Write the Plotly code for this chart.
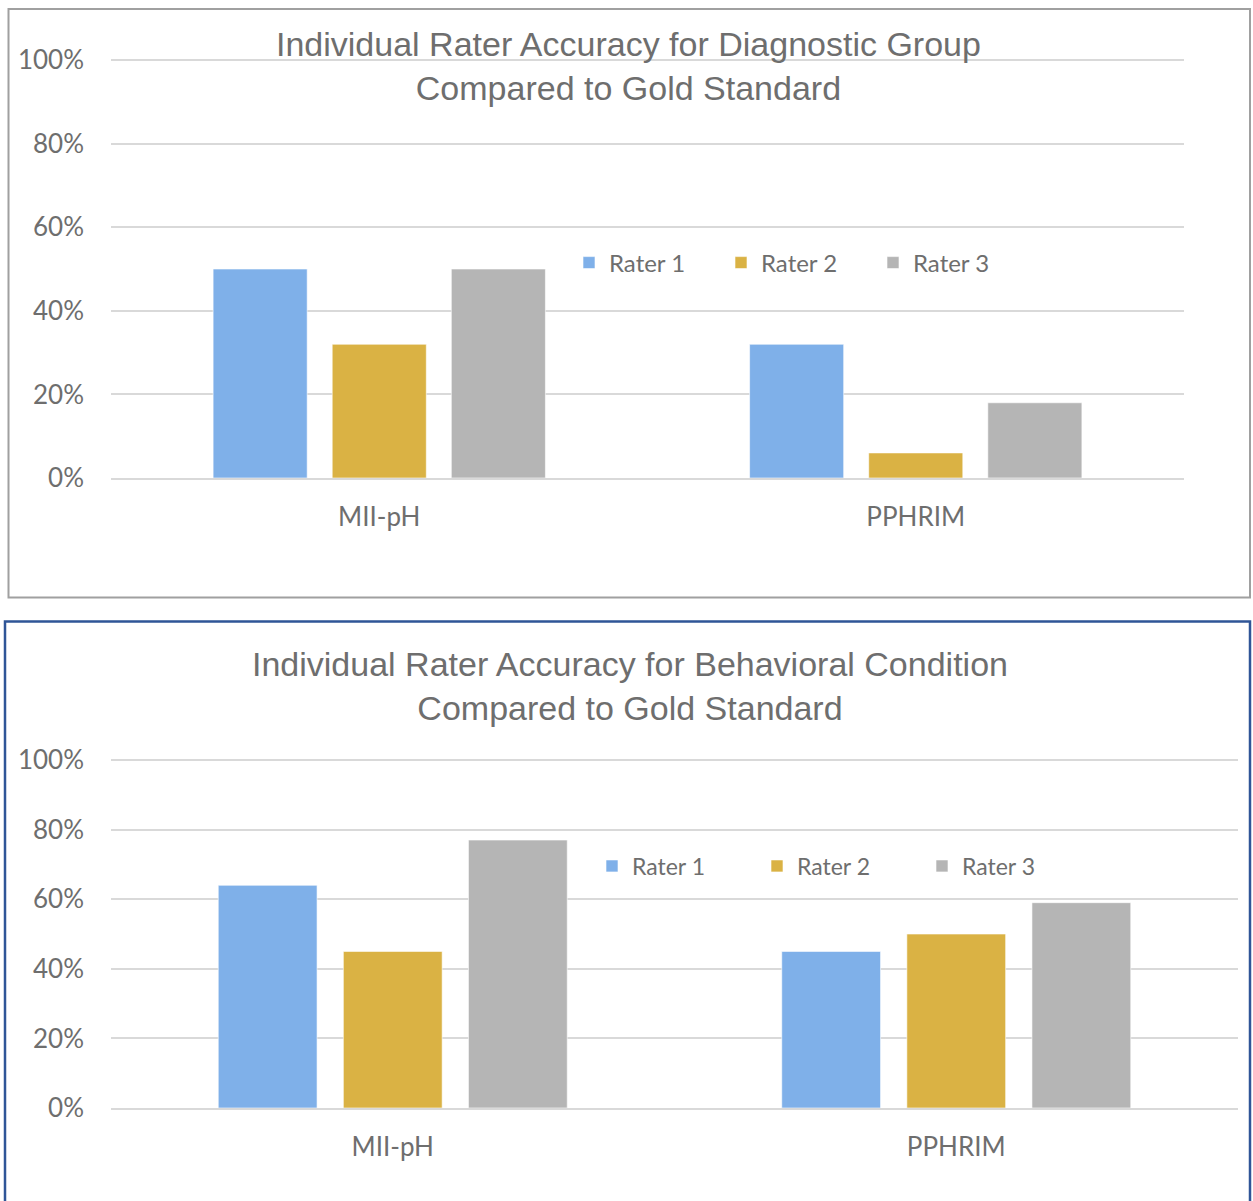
import plotly.graph_objects as go

categories = ["MII-pH", "PPHRIM"]
raters = ["Rater 1", "Rater 2", "Rater 3"]
colors = ["#7FB0E9", "#DAB244", "#B5B5B5"]

# Diagnostic Group accuracy (fraction)
diag_r1 = [0.50, 0.32]
diag_r2 = [0.32, 0.06]
diag_r3 = [0.50, 0.18]

# Behavioral Condition accuracy (fraction)
beh_r1 = [0.64, 0.45]
beh_r2 = [0.45, 0.50]
beh_r3 = [0.77, 0.59]

tick_vals = [0, 0.2, 0.4, 0.6, 0.8, 1.0]
tick_text = ["0%", "20%", "40%", "60%", "80%", "100%"]

title_top = "Individual Rater Accuracy for Diagnostic Group<br>Compared to Gold Standard"
title_bot = "Individual Rater Accuracy for Behavioral Condition<br>Compared to Gold Standard"

W, H = 1253, 1201
def px_x(p):
    return p / W
def px_y(p):
    return 1 - p / H

fig = go.Figure()

for name, col, vals in zip(raters, colors, [diag_r1, diag_r2, diag_r3]):
    fig.add_trace(go.Bar(x=categories, y=vals, name=name, marker_color=col,
                         marker_line=dict(color="rgba(255,255,255,0.6)", width=1),
                         xaxis="x", yaxis="y", legend="legend", offsetgroup=name))
for name, col, vals in zip(raters, colors, [beh_r1, beh_r2, beh_r3]):
    fig.add_trace(go.Bar(x=categories, y=vals, name=name, marker_color=col,
                         marker_line=dict(color="rgba(255,255,255,0.6)", width=1),
                         xaxis="x2", yaxis="y2", legend="legend2", offsetgroup=name))

txt_col = "#6E6E6E"
tick_font = dict(family="Lato, Liberation Sans, sans-serif", size=26, color=txt_col)
legend_font = dict(family="Lato, Liberation Sans, sans-serif", size=24, color=txt_col)
legend_font2 = dict(family="Lato, Liberation Sans, sans-serif", size=23, color=txt_col)
title_font = dict(family="Liberation Sans, Arial, sans-serif", size=34, color=txt_col)

YMAX = 1.005
yax_common = dict(range=[0, YMAX], tickvals=tick_vals, ticktext=tick_text,
                  showgrid=True, gridcolor="#D9D9D9", gridwidth=1.5,
                  zeroline=False, showline=False, tickfont=tick_font,
                  ticklabelstandoff=26, fixedrange=True, automargin=False)
xax_common = dict(showline=True, linecolor="#D9D9D9", linewidth=1.5,
                  tickfont=tick_font, ticklabelstandoff=15, showgrid=False,
                  automargin=False, fixedrange=True)

# plot heights so that 100% lands on the reference gridline
top_h = (478 - 60) * YMAX
bot_h = (1108 - 760) * YMAX

fig.update_layout(
    width=W, height=H,
    margin=dict(l=0, r=0, t=0, b=0, autoexpand=False),
    paper_bgcolor="white", plot_bgcolor="white",
    barmode="group", bargap=0.334, bargroupgap=0.21,
    xaxis=dict(domain=[px_x(111), px_x(1184)], anchor="y", **xax_common),
    yaxis=dict(domain=[px_y(478), px_y(478 - top_h)], anchor="x", **yax_common),
    xaxis2=dict(domain=[px_x(111), px_x(1238)], anchor="y2", **xax_common),
    yaxis2=dict(domain=[px_y(1108), px_y(1108 - bot_h)], anchor="x2", **yax_common),
    legend=dict(orientation="h", x=px_x(569), y=px_y(263), xanchor="left", yanchor="middle",
                font=legend_font, entrywidth=107, entrywidthmode="pixels",
                bgcolor="rgba(0,0,0,0)", itemclick=False),
    legend2=dict(orientation="h", x=px_x(592), y=px_y(866), xanchor="left", yanchor="middle",
                 font=legend_font2, entrywidth=120, entrywidthmode="pixels",
                 bgcolor="rgba(0,0,0,0)", itemclick=False),
    annotations=[
        dict(text=title_top, x=px_x(628), y=px_y(66), xref="paper", yref="paper",
             xanchor="center", yanchor="middle", showarrow=False, font=title_font, align="center"),
        dict(text=title_bot, x=px_x(630), y=px_y(686), xref="paper", yref="paper",
             xanchor="center", yanchor="middle", showarrow=False, font=title_font, align="center"),
    ],
    shapes=[
        dict(type="rect", xref="paper", yref="paper", x0=px_x(8.5), x1=px_x(1250), y0=px_y(597.5), y1=px_y(9),
             line=dict(color="#A0A0A0", width=2), layer="above"),
        dict(type="rect", xref="paper", yref="paper", x0=px_x(5), x1=px_x(1250), y0=px_y(1210), y1=px_y(621.5),
             line=dict(color="#2F5597", width=2.5), layer="above"),
    ],
)

fig.write_html("out.html", config={"displayModeBar": False},
               post_script="document.body.style.margin='0';")
